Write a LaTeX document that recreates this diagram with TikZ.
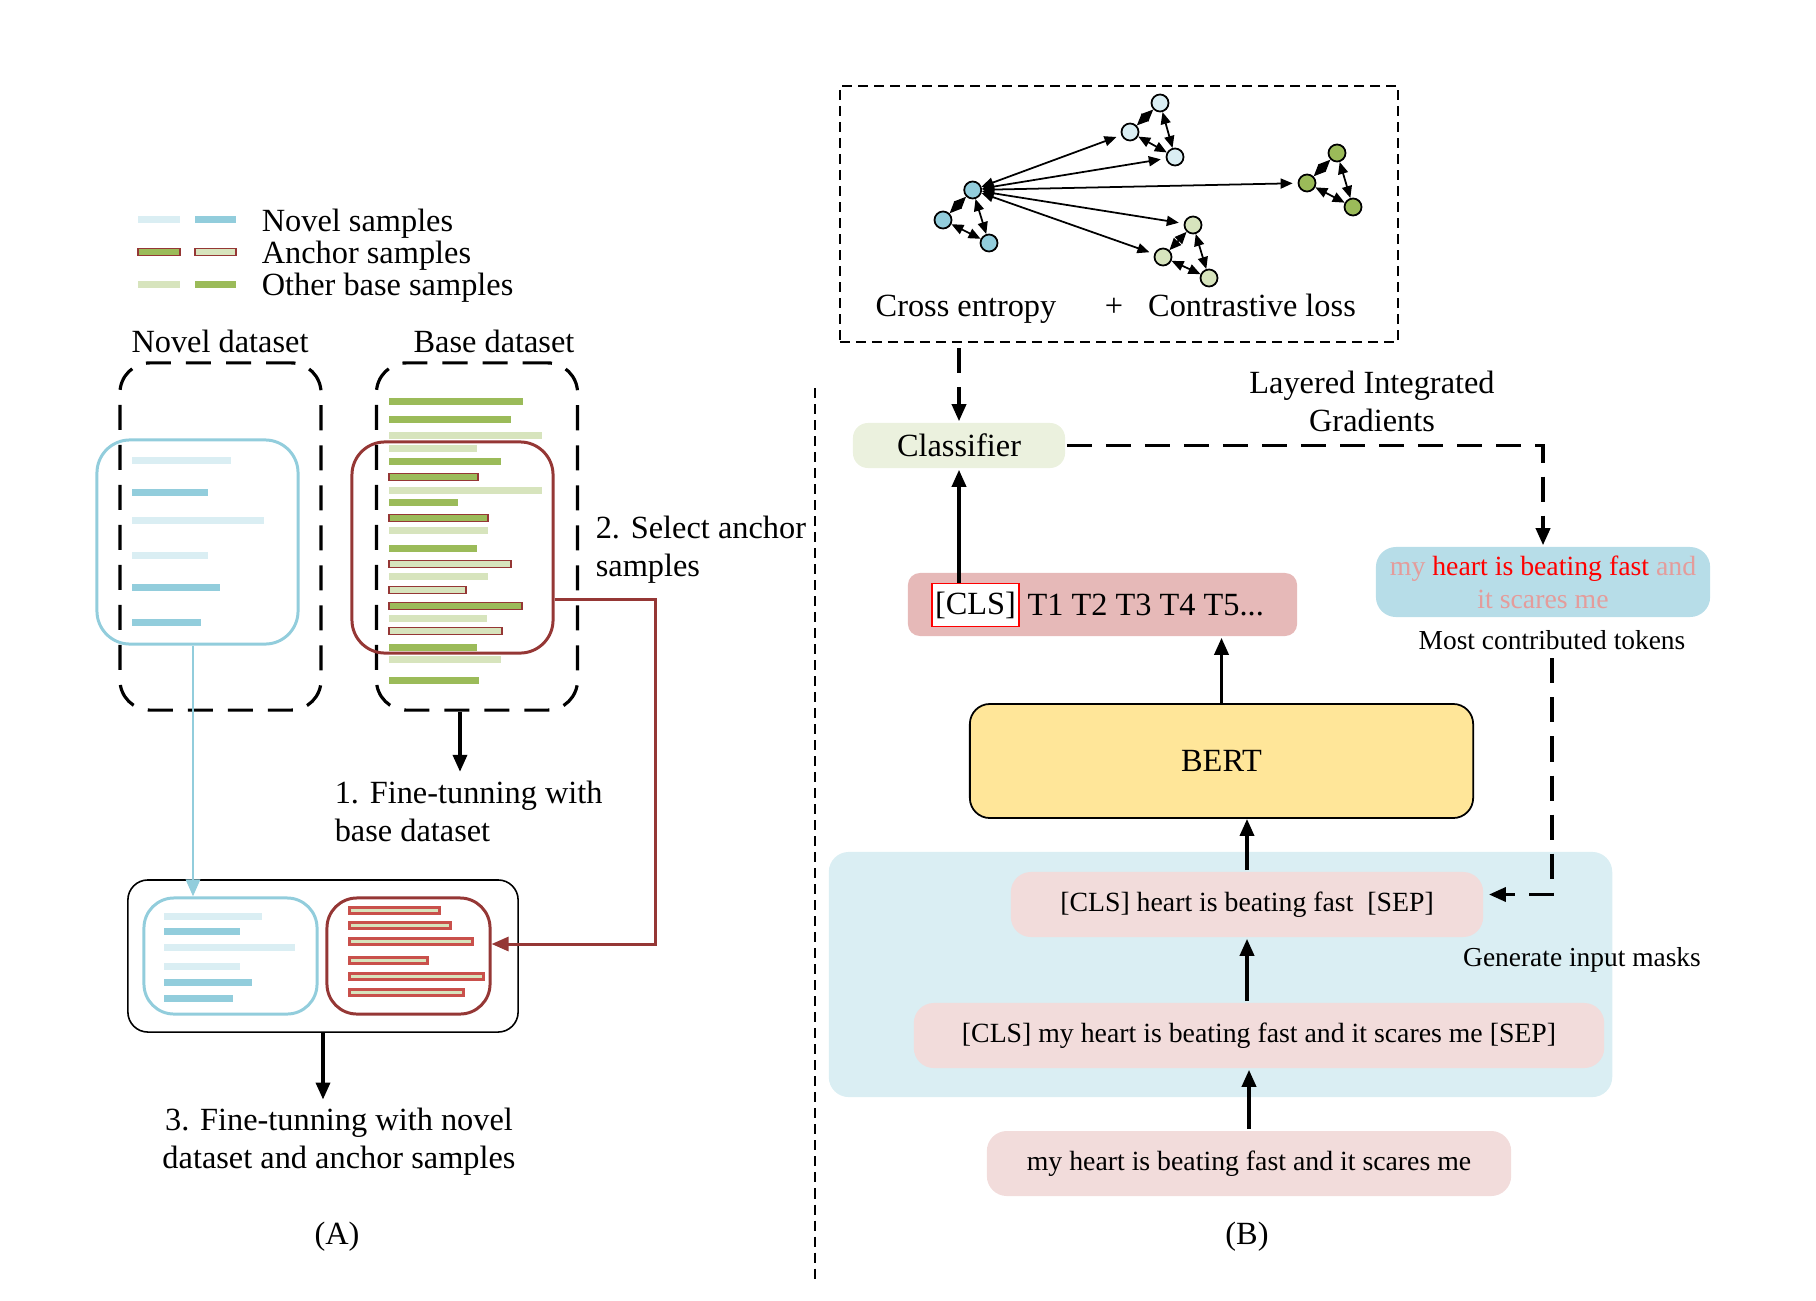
\documentclass[tikz,border=0pt]{standalone}
\usepackage{fontspec}
\setmainfont{Liberation Serif}
\usetikzlibrary{arrows.meta}
\definecolor{nvlight}{HTML}{DAEEF3}
\definecolor{nvdark}{HTML}{92CDDC}
\definecolor{bslight}{HTML}{D7E4BD}
\definecolor{bsdark}{HTML}{9BBB59}
\definecolor{ancred}{HTML}{953735}
\definecolor{ancbar}{HTML}{C9504B}
\definecolor{clsfill}{HTML}{EBF1DE}
\definecolor{bertfill}{HTML}{FFE699}
\definecolor{tokfill}{HTML}{B7DDE8}
\definecolor{seqfill}{HTML}{E6B9B8}
\definecolor{inpfill}{HTML}{F2DCDB}
\definecolor{maskfill}{HTML}{DAEEF3}
\definecolor{fadered}{HTML}{E49C9B}
\newcommand{\txtL}{\fontsize{9.2}{10.8}\selectfont}
\newcommand{\txtM}{\fontsize{7.9}{9.4}\selectfont}
\newcommand{\txtS}{\fontsize{7.8}{9}\selectfont}
\begin{document}
\begin{tikzpicture}[x=0.01cm,y=-0.01cm,line width=1pt,>={Triangle[length=0.17cm,width=0.14cm]},
lab/.style={font=\txtL,inner sep=2pt,align=center},
dset/.style={draw,line width=0.9pt,dash pattern=on 0.25cm off 0.15cm,rounded corners=0.3cm,minimum width=2.01cm,minimum height=3.47cm,inner sep=0pt},
nbox/.style={draw=nvdark,line width=0.85pt,rounded corners=0.33cm,inner sep=0pt},
abox/.style={draw=ancred,line width=0.85pt,rounded corners=0.33cm,inner sep=0pt},
rbox/.style={rounded corners=0.2cm,inner sep=0pt,font=\txtL},
pbox/.style={fill=inpfill,rounded corners=0.2cm,inner sep=0pt,minimum height=0.65cm,font=\txtM},
nl/.style={fill=nvlight},nd/.style={fill=nvdark},gl/.style={fill=bslight},gd/.style={fill=bsdark},
agl/.style={fill=bslight,draw=ancred,line width=0.55pt},agd/.style={fill=bsdark,draw=ancred,line width=0.55pt},
abl/.style={fill=bslight,draw=ancbar,line width=0.85pt},
gnode/.style={circle,draw,line width=0.5pt,minimum size=0.17cm,inner sep=0pt},
gedge/.style={line width=0.5pt,>={Triangle[length=0.12cm,width=0.1cm]}},
dline/.style={line width=1pt,dash pattern=on 0.25cm off 0.14cm}]
\useasboundingbox (0,0) rectangle (1816,1300);
% legend
\foreach \y/\a/\b in {219/nl/nd,252/agd/agl,284/gl/gd}{
\path[\a] (138,\y-3.5) rectangle (180,\y+3.5);
\path[\b] (195,\y-3.5) rectangle (236,\y+3.5);}
\node[lab,anchor=base west] (lnov) at (253,231) {Novel samples};
\node[lab,anchor=base west] (lanc) at (253,263) {Anchor samples};
\node[lab,anchor=base west] (loth) at (253,295) {Other base samples};
% (A) datasets
\node[lab,anchor=base] (novlab) at (220,352) {Novel dataset};
\node[lab,anchor=base] (baslab) at (494,352) {Base dataset};
\node[dset] (novel) at (220.5,536.5) {};
\node[dset] (base) at (477,536.5) {};
\node[nbox,minimum width=2.01cm,minimum height=2.04cm] (nsel) at (197.5,542) {};
\node[abox,minimum width=2.01cm,minimum height=2.11cm] (asel) at (452.5,547.5) {};
\foreach \y/\e/\s in {460/231/nl,492/208/nd,520/264/nl,555/208/nl,587/220/nd,622/201/nd}
\path[\s] (132,\y-3.5) rectangle (\e,\y+3.5);
\foreach \y/\e/\s in {401/523/gd,419/511/gd,435/542/gl,448/477/gl,461/501/gd,477/478/agd,490/542/gl,502/458/gd,518/488/agd,530/488/gl,548/477/gd,564/511/agl,576/488/gl,590/466/agl,606/522/agd,618/487/gl,631/502/agl,647/477/gd,659/501/gl,680/479/gd}
\path[\s] (389,\y-3.5) rectangle (\e,\y+3.5);
% mixed set
\node[draw,line width=0.45pt,rounded corners=0.2cm,minimum width=3.9cm,minimum height=1.52cm,inner sep=0pt] (mix) at (323,956) {};
\node[nbox,rounded corners=0.3cm,minimum width=1.73cm,minimum height=1.16cm] (nset) at (230.5,956) {};
\node[abox,rounded corners=0.3cm,minimum width=1.63cm,minimum height=1.16cm] (aset) at (408.5,956) {};
\foreach \y/\e/\s in {916/262/nl,931/240/nd,947/295/nl,966/240/nl,982/252/nd,998/233/nd}
\path[\s] (164,\y-3.5) rectangle (\e,\y+3.5);
\foreach \y/\e in {910/439,925/450,941/472,960/427,976/483,992/463}
\path[abl] (349,\y-3) rectangle (\e,\y+3);
\node[lab,anchor=west,align=left] (sel) at (587,550) {2. Select anchor\\samples};
\node[lab,anchor=west,align=left] (ft1) at (326,811) {1. Fine-tunning with\\base dataset};
\node[lab] (ft3) at (339,1142) {3. Fine-tunning with novel\\dataset and anchor samples};
\node[lab] (pa) at (337,1237) {(A)};
\draw[draw=nvdark,line width=0.85pt,->] ([xshift=-0.045cm]nsel.south) -- ([xshift=-0.045cm]nsel.south |- nset.north);
\draw[draw=ancred,line width=0.85pt,->] ([yshift=-0.515cm]asel.east) -- ++(101,0) |- ([yshift=0.12cm]aset.east);
\draw[->] ([xshift=-0.17cm]base.south) -- ([xshift=-0.17cm]base.south |- ft1.north);
\draw[->] (mix.south) -- (mix.south |- ft3.north);
% separator
\draw[line width=0.5pt,dash pattern=on 0.1cm off 0.06cm] (815,388) -- (815,1280);
% (B) loss
\node[draw,line width=0.6pt,dash pattern=on 0.1cm off 0.06cm,minimum width=5.58cm,minimum height=2.56cm,inner sep=0pt] (loss) at (1119,214) {};
\foreach \c/\f/\ax/\ay/\bx/\by/\cx/\cy in {nv/nvdark/972.7/190/943/220/989/243,nw/nvlight/1160/103/1130/132/1175/157,bd/bsdark/1337/153/1307/183/1353/207,bl/bslight/1193/225/1163/257/1209/278}{
\node[gnode,fill=\f] (\c1) at (\ax,\ay) {};
\node[gnode,fill=\f] (\c2) at (\bx,\by) {};
\node[gnode,fill=\f] (\c3) at (\cx,\cy) {};
\draw[gedge,<->] (\c1) -- (\c2);
\draw[gedge,<->] (\c1) -- (\c3);
\draw[gedge,<->] (\c2) -- (\c3);}
\foreach \t in {nw2,nw3,bd2,bl1,bl2}
\draw[gedge,<->,shorten >=0.05cm] (nv1) -- (\t);
\node[lab,anchor=base] (ce) at (966,316) {Cross entropy};
\node[lab,anchor=base] (plus) at (1114,316) {+};
\node[lab,anchor=base] (cl) at (1252,316) {Contrastive loss};
% (B) model
\node[rbox,fill=clsfill,minimum width=2.12cm,minimum height=0.45cm,rounded corners=0.15cm] (cls) at (959,445.5) {Classifier};
\node[lab] (lig) at (1372,401) {Layered Integrated\\Gradients};
\node[rbox,fill=tokfill,minimum width=3.34cm,minimum height=0.7cm,font=\txtM,align=center] (tok) at (1543,582) {\textcolor{fadered}{my} \textcolor{red}{heart is beating fast} \textcolor{fadered}{and}\\\textcolor{fadered}{it scares me}};
\node[lab,font=\txtS] (mct) at (1552,640) {Most contributed tokens};
\node[rbox,fill=seqfill,minimum width=3.89cm,minimum height=0.63cm,rounded corners=0.12cm] (tseq) at (1102.5,604.5) {};
\node[draw=red,fill=white,line width=0.45pt,inner xsep=0.03cm,inner ysep=0pt,minimum height=0.43cm,font=\txtL] (tcls) at (975.5,605) {[CLS]};
\node[lab,anchor=west,inner xsep=0.06cm] (ttok) at (tcls.east) {T1 T2 T3 T4 T5...};
\node[rbox,draw,line width=0.5pt,fill=bertfill,minimum width=5.03cm,minimum height=1.14cm] (bert) at (1221.5,761) {BERT};
\node[fill=maskfill,rounded corners=0.2cm,minimum width=7.83cm,minimum height=2.45cm,inner sep=0pt] (mask) at (1220.5,974.5) {};
\node[pbox,minimum width=4.72cm] (hbox) at (1247,904.5) {[CLS] heart is beating fast~ [SEP]};
\node[lab,font=\txtS] (gim) at (1582,960) {Generate input masks};
\node[pbox,minimum width=6.9cm] (fbox) at (1259,1035.5) {[CLS] my heart is beating fast and it scares me [SEP]};
\node[pbox,minimum width=5.24cm] (raw) at (1249,1163.5) {my heart is beating fast and it scares me};
\node[lab] (pb) at (1247,1237) {(B)};
\draw[dline,->] (cls.north |- loss.south) ++(0,5) -- (cls.north);
\draw[dline,->] (cls.east) -| (tok.north);
\draw[dline,->,shorten >=0.04cm] (mct.south) |- ([yshift=0.1cm]hbox.east);
\draw[->] (tcls.north -| cls.south) -- (cls.south);
\draw[->] (bert.north) -- (bert.north |- tseq.south);
\draw[->] (hbox.north) -- (hbox.north |- bert.south);
\draw[->] (fbox.north -| hbox.south) -- (hbox.south);
\draw[->] (raw.north) -- (raw.north |- fbox.south);
\end{tikzpicture}
\end{document}
